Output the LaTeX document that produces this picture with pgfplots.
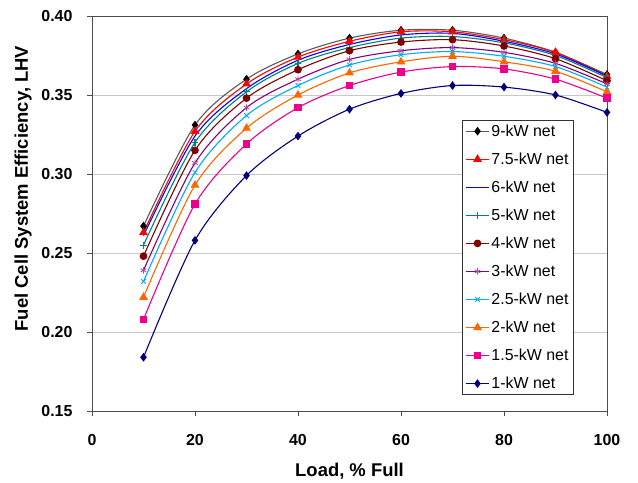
\documentclass[border=0pt]{standalone}
\usepackage{pgfplots}
\pgfplotsset{compat=1.18}
\usepackage{pgfplotstable}
\usepackage{fontspec}
\setmainfont{Liberation Sans}
\usetikzlibrary{calc}
\definecolor{cteal}{RGB}{0,128,128}
\definecolor{cdred}{RGB}{128,0,0}
\definecolor{cpurp}{RGB}{128,0,128}
\definecolor{corange}{RGB}{255,102,0}
\definecolor{cnavy}{RGB}{0,0,128}
\definecolor{cgrid}{RGB}{200,200,200}
\pgfplotstableread{
x s9 s75 s6 s5 s4 s3 s25 s2 s15 s1
10 0.267 0.263 0.261 0.255 0.248 0.239 0.232 0.222 0.208 0.184
20 0.331 0.327 0.324 0.320 0.315 0.307 0.301 0.293 0.281 0.258
30 0.360 0.357 0.354 0.352 0.348 0.342 0.337 0.329 0.319 0.299
40 0.376 0.374 0.372 0.370 0.366 0.360 0.356 0.350 0.342 0.324
50 0.386 0.384 0.382 0.380 0.378 0.3725 0.369 0.364 0.356 0.341
60 0.391 0.390 0.388 0.386 0.3835 0.378 0.3755 0.371 0.3645 0.351
70 0.391 0.390 0.389 0.387 0.385 0.380 0.3775 0.3745 0.368 0.356
80 0.386 0.385 0.384 0.383 0.381 0.377 0.3745 0.371 0.3665 0.355
90 0.377 0.377 0.376 0.375 0.373 0.370 0.368 0.365 0.360 0.350
100 0.363 0.362 0.362 0.361 0.359 0.357 0.355 0.352 0.348 0.339
}\data
\begin{document}
\begin{tikzpicture}
\begin{axis}[
  scale only axis,
  width=515bp, height=395bp,
  xmin=0, xmax=100, ymin=0.15, ymax=0.40,
  xtick={0,20,...,100},
  ytick={0.15,0.20,...,0.40},
  yticklabel style={/pgf/number format/fixed,/pgf/number format/fixed zerofill,/pgf/number format/precision=2, xshift=-11bp},
  xticklabel style={yshift=-15bp},
  /pgf/number format/assume math mode=true,
  tick label style={font=\fontsize{16}{18}\selectfont\bfseries},
  label style={font=\fontsize{18.5}{21}\selectfont\bfseries},
  xlabel={Load, \% Full},
  ylabel={Fuel Cell System Efficiency, LHV},
  ymajorgrids,
  grid style={cgrid, line width=0.8pt},
  axis line style={black!70, line width=0.8pt},
  tick style={black!70, line width=0.8pt},
  tick align=outside,
  xtick pos=bottom, ytick pos=left,
  major tick length=5bp,
  xlabel style={at={(axis description cs:0.5,-0.152)}, anchor=center},
  ylabel style={at={(axis description cs:-0.134,0.563)}, anchor=center},
  legend style={at={(0.718,0.737)}, anchor=north west, draw=black!80, line width=0.6pt,
    font=\fontsize{16}{18}\selectfont, row sep=12bp, inner sep=3bp, nodes={inner sep=1.5bp},
    every mark/.append style={scale=0.7}},
  legend image code/.code={
    \draw[mark repeat=2,mark phase=2] plot coordinates {(0cm,0cm) (0.42cm,0cm) (0.84cm,0cm)};
  },
  legend cell align=left,
  every axis plot/.append style={line width=1.1pt, smooth},
]
\addplot[gray!70!black, mark=diamond*, mark size=3.5pt, mark options={black, fill=black}] table[x=x,y=s9]{\data};
\addlegendentry{9-kW net}
\addplot[red, mark=triangle*, mark size=4pt, mark options={red, fill=red}] table[x=x,y=s75]{\data};
\addlegendentry{7.5-kW net}
\addplot[blue, no markers] table[x=x,y=s6]{\data};
\addlegendentry{6-kW net}
\addplot[cteal, mark=+, mark size=3.5pt, mark options={cteal}] table[x=x,y=s5]{\data};
\addlegendentry{5-kW net}
\addplot[cdred, mark=*, mark size=3.3pt, mark options={cdred, fill=cdred}] table[x=x,y=s4]{\data};
\addlegendentry{4-kW net}
\addplot[cpurp, mark=asterisk, mark size=3.3pt, mark options={cpurp!70, line width=0.8pt}] table[x=x,y=s3]{\data};
\addlegendentry{3-kW net}
\addplot[cyan, mark=x, mark size=3.3pt, mark options={cyan, line width=0.8pt}] table[x=x,y=s25]{\data};
\addlegendentry{2.5-kW net}
\addplot[corange, mark=triangle*, mark size=4pt, mark options={corange, fill=corange}] table[x=x,y=s2]{\data};
\addlegendentry{2-kW net}
\addplot[magenta, mark=square*, mark size=3.3pt, mark options={magenta, fill=magenta}] table[x=x,y=s15]{\data};
\addlegendentry{1.5-kW net}
\addplot[cnavy, mark=diamond*, mark size=3.5pt, mark options={cnavy, fill=cnavy}] table[x=x,y=s1]{\data};
\addlegendentry{1-kW net}
\end{axis}
\path[use as bounding box] ($(current axis.south west)+(-92bp,-70bp)$) rectangle ($(current axis.north east)+(31bp,16bp)$);
\end{tikzpicture}
\end{document}
